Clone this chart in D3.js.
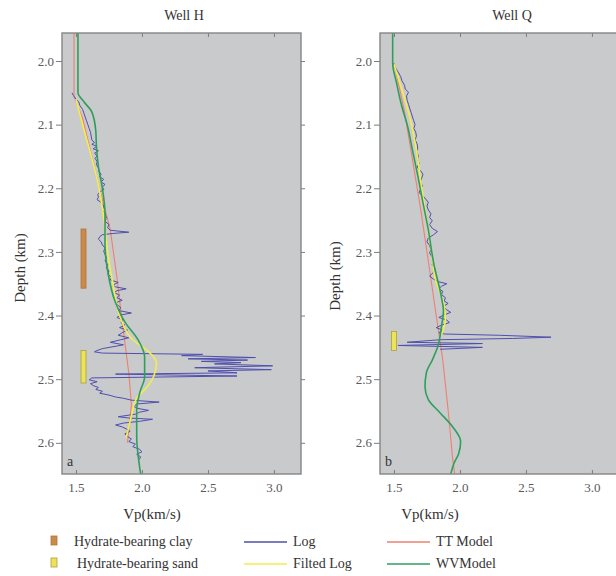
<!DOCTYPE html>
<html>
<head>
<meta charset="utf-8">
<script src="https://cdn.jsdelivr.net/npm/d3@7"></script>
<style>
html,body{margin:0;padding:0;background:#fff;}
svg{display:block;}
text{font-family:"Liberation Serif","DejaVu Serif",serif;}
</style>
</head>
<body>
<svg id="chart" width="616" height="576"></svg>
<script>
// ---------------- DATA ----------------
const wells = ["Well H", "Well Q"];
const panelLetters = ["a", "b"];
const xTicks = [1.5, 2.0, 2.5, 3.0];
const yTicks = [2.0, 2.1, 2.2, 2.3, 2.4, 2.5, 2.6];
const xLabel = "Vp(km/s)";
const yLabel = "Depth (km)";

// Well H : [Vp, depth]
const logH = [[1.47,2.050],[1.48,2.054],[1.50,2.060],[1.52,2.064],[1.53,2.070],[1.55,2.076],[1.56,2.082],[1.57,2.088],[1.58,2.094],[1.59,2.100],[1.60,2.106],[1.61,2.112],[1.615,2.118],[1.62,2.124],[1.64,2.128],[1.62,2.131],[1.66,2.134],[1.63,2.138],[1.67,2.141],[1.64,2.145],[1.66,2.149],[1.645,2.153],[1.66,2.158],[1.655,2.163],[1.67,2.168],[1.675,2.174],[1.69,2.178],[1.68,2.182],[1.71,2.186],[1.69,2.190],[1.72,2.194],[1.70,2.198],[1.71,2.202],[1.68,2.206],[1.665,2.210],[1.67,2.214],[1.66,2.218],[1.69,2.222],[1.71,2.228],[1.70,2.234],[1.72,2.240],[1.73,2.246],[1.72,2.252],[1.75,2.257],[1.74,2.262],[1.76,2.266],[1.90,2.269],[1.78,2.271],[1.70,2.273],[1.68,2.276],[1.67,2.280],[1.69,2.284],[1.70,2.289],[1.72,2.294],[1.71,2.299],[1.72,2.304],[1.73,2.309],[1.72,2.314],[1.74,2.320],[1.73,2.325],[1.75,2.330],[1.74,2.335],[1.77,2.340],[1.76,2.344],[1.82,2.348],[1.78,2.352],[1.80,2.355],[1.88,2.358],[1.81,2.361],[1.79,2.364],[1.83,2.368],[1.81,2.372],[1.85,2.376],[1.80,2.380],[1.82,2.384],[1.84,2.388],[1.82,2.392],[1.92,2.396],[1.84,2.399],[1.81,2.403],[1.86,2.407],[1.84,2.411],[1.87,2.415],[1.83,2.419],[1.89,2.423],[1.85,2.427],[1.82,2.431],[1.90,2.435],[1.84,2.438],[1.76,2.442],[1.86,2.446],[1.78,2.449],[1.70,2.452],[1.66,2.455],[1.64,2.457],[1.70,2.459],[2.46,2.461],[2.30,2.463],[2.86,2.466],[2.35,2.468],[2.80,2.470],[2.45,2.472],[2.75,2.474],[2.55,2.476],[2.99,2.479],[2.40,2.482],[2.98,2.485],[2.50,2.487],[2.72,2.490],[1.80,2.492],[2.72,2.495],[1.62,2.498],[1.60,2.501],[1.66,2.504],[1.61,2.507],[1.63,2.510],[1.67,2.513],[1.65,2.516],[1.70,2.519],[1.68,2.522],[1.75,2.525],[1.80,2.528],[1.86,2.530],[1.92,2.533],[2.13,2.536],[1.96,2.539],[1.94,2.543],[1.97,2.546],[2.05,2.549],[1.98,2.552],[1.95,2.555],[1.82,2.559],[1.90,2.561],[2.08,2.563],[1.99,2.566],[1.86,2.569],[1.80,2.572],[1.85,2.575],[1.88,2.578],[1.91,2.582],[1.87,2.586],[1.89,2.590],[1.92,2.594],[1.90,2.598],[1.95,2.602],[1.93,2.606],[1.98,2.610],[2.00,2.614],[1.96,2.618],[1.99,2.622],[1.98,2.626]];
const filtH = [[1.50,2.060],[1.55,2.100],[1.61,2.145],[1.67,2.195],[1.71,2.245],[1.74,2.300],[1.78,2.350],[1.84,2.405],[1.93,2.438],[2.04,2.455],[2.11,2.474],[2.09,2.495],[2.04,2.512],[1.96,2.530],[1.92,2.557],[1.89,2.584],[1.88,2.592]];
const ttH = [[1.485,1.956],[1.485,2.056],[1.55,2.090],[1.62,2.150],[1.69,2.210],[1.76,2.265],[1.81,2.340],[1.85,2.410],[1.90,2.490],[1.92,2.540],[1.89,2.600]];
const wvH = [[1.515,1.956],[1.515,2.050],[1.56,2.064],[1.62,2.080],[1.65,2.110],[1.655,2.135],[1.67,2.166],[1.70,2.200],[1.72,2.240],[1.72,2.290],[1.74,2.330],[1.80,2.380],[1.87,2.410],[1.97,2.438],[2.02,2.465],[2.02,2.496],[1.985,2.520],[1.96,2.548],[1.96,2.590],[1.985,2.642],[1.99,2.649]];
const zonesH = [{type:"clay", top:2.264, bottom:2.357}, {type:"sand", top:2.455, bottom:2.506}];

// Well Q : [Vp, depth]
const logQ = [[1.49,2.003],[1.51,2.010],[1.53,2.017],[1.55,2.024],[1.56,2.031],[1.58,2.038],[1.585,2.044],[1.61,2.049],[1.595,2.055],[1.60,2.062],[1.61,2.068],[1.62,2.075],[1.63,2.081],[1.64,2.088],[1.65,2.094],[1.66,2.100],[1.65,2.106],[1.665,2.112],[1.67,2.118],[1.66,2.124],[1.675,2.130],[1.68,2.137],[1.67,2.143],[1.685,2.149],[1.68,2.155],[1.69,2.161],[1.675,2.167],[1.70,2.172],[1.72,2.178],[1.71,2.184],[1.70,2.190],[1.715,2.196],[1.70,2.202],[1.69,2.207],[1.72,2.212],[1.74,2.217],[1.76,2.222],[1.75,2.228],[1.76,2.234],[1.78,2.240],[1.77,2.246],[1.79,2.251],[1.77,2.257],[1.79,2.263],[1.83,2.268],[1.80,2.273],[1.76,2.278],[1.75,2.284],[1.77,2.290],[1.78,2.296],[1.77,2.302],[1.79,2.308],[1.80,2.314],[1.79,2.320],[1.81,2.326],[1.80,2.332],[1.77,2.338],[1.80,2.343],[1.84,2.347],[1.90,2.350],[1.86,2.354],[1.84,2.358],[1.87,2.362],[1.86,2.367],[1.89,2.372],[1.88,2.377],[1.91,2.381],[1.87,2.386],[1.90,2.391],[1.93,2.395],[1.88,2.399],[1.84,2.403],[1.90,2.407],[1.92,2.411],[1.86,2.415],[1.82,2.419],[1.87,2.423],[1.84,2.427],[1.88,2.429],[2.30,2.431],[2.69,2.434],[2.40,2.436],[1.85,2.438],[1.60,2.442],[2.17,2.444],[1.53,2.447],[2.17,2.450],[1.85,2.453]];
const filtQ = [[1.50,2.005],[1.53,2.025],[1.62,2.088],[1.67,2.140],[1.71,2.200],[1.75,2.253],[1.79,2.307],[1.81,2.340],[1.88,2.385],[1.89,2.405],[1.86,2.430]];
const ttQ = [[1.50,2.003],[1.58,2.080],[1.64,2.155],[1.70,2.230],[1.75,2.300],[1.82,2.400],[1.87,2.470],[1.91,2.548],[1.945,2.626],[1.96,2.649]];
const wvQ = [[1.49,1.956],[1.49,2.003],[1.52,2.035],[1.56,2.072],[1.60,2.100],[1.64,2.140],[1.68,2.180],[1.72,2.223],[1.76,2.265],[1.80,2.317],[1.86,2.372],[1.875,2.392],[1.86,2.417],[1.83,2.450],[1.79,2.470],[1.745,2.490],[1.735,2.512],[1.76,2.532],[1.85,2.553],[1.945,2.575],[2.005,2.598],[1.99,2.617],[1.955,2.632],[1.93,2.649]];
const zonesQ = [{type:"sand", top:2.425, bottom:2.455}];

const seriesNames = ["Log", "Filted Log", "TT Model", "WVModel"];
const zoneNames = ["Hydrate-bearing clay", "Hydrate-bearing sand"];

// ---------------- STYLE ----------------
const colors = {"Log":"#4f4fae", "Filted Log":"#f4ee4a", "TT Model":"#ee8070", "WVModel":"#2f9e5c"};
const widths = {"Log":1, "Filted Log":1.6, "TT Model":1.1, "WVModel":1.6};
const curves = {"Log":d3.curveLinear, "Filted Log":d3.curveMonotoneY, "TT Model":d3.curveLinear, "WVModel":d3.curveMonotoneY};
const zoneFill = {clay:"#c98a4c", sand:"#ece35a"};
const zoneStroke = {clay:"#b3733a", sand:"#a9a23a"};

const svg = d3.select("#chart");
const pTop = 33, pBottom = 474, pw = 239;
const panels = [
  {left:62, title:wells[0], letter:panelLetters[0], log:logH, filt:filtH, tt:ttH, wv:wvH, zones:zonesH, markerV:1.557, titleX:184, xlabX:152, ylabX:20, ylabY:268},
  {left:380, title:wells[1], letter:panelLetters[1], log:logQ, filt:filtQ, tt:ttQ, wv:wvQ, zones:zonesQ, markerV:1.50, titleX:512, xlabX:430, ylabX:335, ylabY:276}
];

const y = d3.scaleLinear().domain([1.956, 2.649]).range([pTop, pBottom]);

panels.forEach((p, i) => {
  const x = d3.scaleLinear().domain([1.394, 3.205]).range([p.left, p.left + pw]);
  const g = svg.append("g");
  const cid = "clip" + i;
  svg.append("clipPath").attr("id", cid).append("rect")
    .attr("x", p.left).attr("y", pTop).attr("width", pw).attr("height", pBottom - pTop);

  g.append("rect").attr("x", p.left).attr("y", pTop).attr("width", pw).attr("height", pBottom - pTop)
    .attr("fill", "#c9cacc");

  const plot = g.append("g").attr("clip-path", `url(#${cid})`);

  const series = [["TT Model", p.tt], ["Log", p.log], ["Filted Log", p.filt], ["WVModel", p.wv]];
  series.forEach(([name, data]) => {
    const line = d3.line().x(d => x(d[0])).y(d => y(d[1])).curve(curves[name]);
    plot.append("path").datum(data).attr("d", line).attr("fill", "none")
      .attr("stroke", colors[name]).attr("stroke-width", widths[name]).attr("stroke-linejoin", "round");
  });

  plot.selectAll("rect.zone").data(p.zones).enter().append("rect").attr("class", "zone")
    .attr("x", x(p.markerV) - 2.5).attr("width", 5)
    .attr("y", d => y(d.top)).attr("height", d => y(d.bottom) - y(d.top))
    .attr("fill", d => zoneFill[d.type]).attr("stroke", d => zoneStroke[d.type]).attr("stroke-width", 0.8);

  // axes
  const fmt = d3.format(".1f");
  const axL = g.append("g").attr("transform", `translate(${p.left},0)`)
    .call(d3.axisLeft(y).tickValues(yTicks).tickFormat(fmt).tickSize(6).tickPadding(2));
  const axR = g.append("g").attr("transform", `translate(${p.left + pw},0)`)
    .call(d3.axisLeft(y).tickValues(yTicks).tickFormat("").tickSize(-4));
  const axT = g.append("g").attr("transform", `translate(0,${pTop})`)
    .call(d3.axisBottom(x).tickValues(xTicks).tickFormat("").tickSize(4));
  const axB = g.append("g").attr("transform", `translate(0,${pBottom})`)
    .call(d3.axisTop(x).tickValues(xTicks).tickFormat("").tickSize(4));
  const axBL = g.append("g").attr("transform", `translate(0,${pBottom})`)
    .call(d3.axisBottom(x).tickValues(xTicks).tickFormat(fmt).tickSize(0).tickPadding(9));
  [axL, axR, axT, axB, axBL].forEach(a => {
    a.select(".domain").remove();
    a.selectAll(".tick line").attr("stroke", "#7d7d7d").attr("stroke-width", 1);
    a.selectAll("text").attr("font-size", 13).attr("fill", "#5a5a5a")
      .attr("font-family", "Liberation Serif, serif");
  });
  g.append("rect").attr("x", p.left).attr("y", pTop).attr("width", pw).attr("height", pBottom - pTop)
    .attr("fill", "none").attr("stroke", "#858585").attr("stroke-width", 1.4);

  // texts
  g.append("text").attr("x", p.titleX).attr("y", 20).attr("text-anchor", "middle")
    .attr("font-size", 14).attr("fill", "#333").text(p.title);
  g.append("text").attr("x", p.xlabX).attr("y", 519).attr("text-anchor", "middle")
    .attr("font-size", 15).attr("fill", "#333").text(xLabel);
  g.append("text").attr("transform", `translate(${p.ylabX + 5},${p.ylabY}) rotate(-90)`)
    .attr("text-anchor", "middle").attr("font-size", 15).attr("fill", "#333").text(yLabel);
  g.append("text").attr("x", p.left + 5).attr("y", 466)
    .attr("font-size", 14).attr("fill", "#333").text(p.letter);
});

// legend
const leg = svg.append("g");
const zoneTypes = ["clay", "sand"];
zoneNames.forEach((n, i) => {
  const yy = 541 + i * 22;
  leg.append("rect").attr("x", 51).attr("y", yy - 5).attr("width", 6).attr("height", 9)
    .attr("fill", zoneFill[zoneTypes[i]]).attr("stroke", zoneStroke[zoneTypes[i]]).attr("stroke-width", 0.8);
  leg.append("text").attr("x", 74 + i * 3).attr("y", yy + 5).attr("font-size", 14).attr("fill", "#333").text(n);
});
seriesNames.forEach((n, i) => {
  const col = Math.floor(i / 2), row = i % 2;
  const x0 = col === 0 ? 244 : 387;
  const yy = 541 + row * 22;
  leg.append("line").attr("x1", x0).attr("x2", x0 + 43).attr("y1", yy + 1).attr("y2", yy + 1)
    .attr("stroke", colors[n]).attr("stroke-width", 1.5);
  leg.append("text").attr("x", x0 + 49).attr("y", yy + 5).attr("font-size", 14).attr("fill", "#333").text(n);
});
</script>
</body>
</html>
